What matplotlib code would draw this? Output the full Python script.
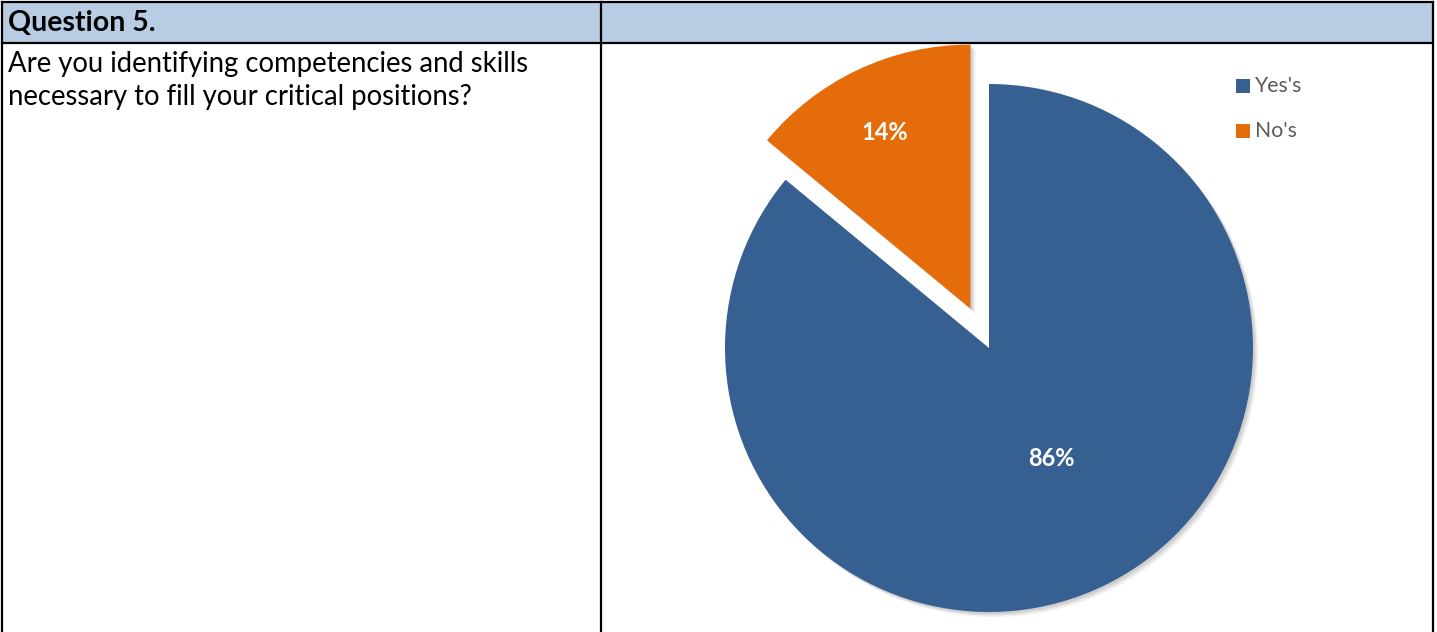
import matplotlib
matplotlib.use('Agg')
import matplotlib.pyplot as plt
from matplotlib.patches import Rectangle, Wedge
import numpy as np

plt.rcParams['font.family'] = ['Lato', 'DejaVu Sans']

# survey answers
labels = ["Yes's", "No's"]
shares = [86, 14]
colors = ['#376092', '#E46C0A']
explode = [0, 0.165]

header_text = 'Question 5.'
question_lines = ['Are you identifying competencies and skills',
                  'necessary to fill your critical positions?']

W, H = 1437, 632
fig = plt.figure(figsize=(W / 100, H / 100), dpi=100)

# table background and grid, in pixel units
tab = fig.add_axes([0, 0, 1, 1])
tab.set_xlim(0, W)
tab.set_ylim(H, 0)
tab.axis('off')
tab.add_patch(Rectangle((1.5, 1.5), 1431, 41, facecolor='#B8CCE4', edgecolor='none'))
lw = 1.6
tab.plot([1.5, 1432.5], [1.5, 1.5], color='black', lw=lw)
tab.plot([1.5, 1432.5], [42.5, 42.5], color='black', lw=lw)
tab.plot([1.5, 1.5], [1.5, H], color='black', lw=lw)
tab.plot([600.5, 600.5], [1.5, H], color='black', lw=lw)
tab.plot([1432.5, 1432.5], [1.5, H], color='black', lw=lw)
tab.text(8, 23, header_text, fontsize=20.5, fontweight='bold', va='center', ha='left')
for i, line in enumerate(question_lines):
    tab.text(8, 64 + i * 33, line, fontsize=19.8, va='center', ha='left')

# pie axes: center (989, 348), radius 264 px
cx, cy, r = 989, 348, 264
half = 330
pie_ax = fig.add_axes([(cx - half) / W, (H - cy - half) / H, 2 * half / W, 2 * half / H])

wedges, _ = pie_ax.pie(shares, colors=colors, explode=explode, startangle=90,
                       counterclock=False, radius=1, frame=True)
pie_ax.set_xlim(-half / r, half / r)
pie_ax.set_ylim(-half / r, half / r)
pie_ax.axis('off')

# soft drop shadow behind each slice
px = 1.0 / r
for w in wedges:
    for k, a in zip([5, 3.5, 2], [0.10, 0.14, 0.18]):
        sh = Wedge((w.center[0] + k * px, w.center[1] - k * px), w.r, w.theta1, w.theta2,
                   facecolor='#7f7f7f', edgecolor='none', alpha=a, zorder=w.get_zorder() - 1)
        pie_ax.add_patch(sh)

# percentage labels
label_dist = [0.48, 0.74]
label_angle_shift = [4.5, 0.7]
for w, v, d, s in zip(wedges, shares, label_dist, label_angle_shift):
    mid = np.deg2rad((w.theta1 + w.theta2) / 2 + s)
    pie_ax.text(w.center[0] + d * np.cos(mid), w.center[1] + d * np.sin(mid), f'{v}%',
                color='white', fontsize=17, fontweight='bold', ha='center', va='center')

# legend
for i, (lab, c) in enumerate(zip(labels, colors)):
    y = 86 + i * 45
    tab.add_patch(Rectangle((1236, y - 7), 14, 14, facecolor=c, edgecolor='none'))
    tab.text(1255, y, lab, fontsize=15.3, color='#595959', va='center', ha='left')

fig.savefig('out.png', dpi=100)
